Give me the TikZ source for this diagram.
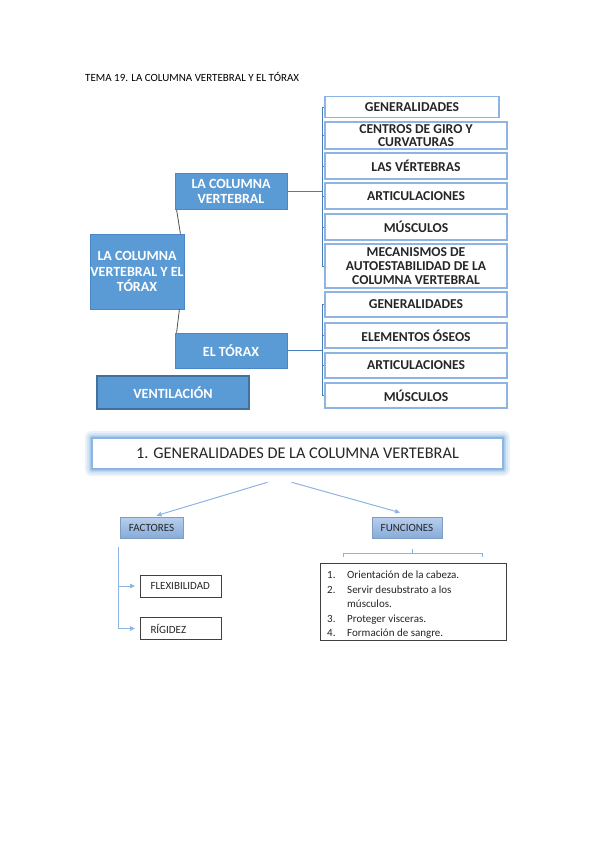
\documentclass[tikz,border=0pt]{standalone}
\usepackage{fontspec}
\setmainfont{Carlito}
\usetikzlibrary{arrows.meta}
\definecolor{obl}{HTML}{5B9BD5}
\definecolor{obd}{HTML}{4A86C8}
\definecolor{vbd}{HTML}{41719C}
\definecolor{rbd}{HTML}{8DB4E2}
\definecolor{cn}{HTML}{4A7EBB}
\definecolor{txt}{HTML}{262626}
\definecolor{arc}{HTML}{8EB4E3}
\definecolor{ftop}{HTML}{B8CFEC}
\definecolor{fbot}{HTML}{86ABDA}
\definecolor{fbd}{HTML}{7F9DC0}
\begin{document}
\begin{tikzpicture}[x=1pt,y=-1pt,
  bluebox/.style={draw=obd,line width=0.8pt,fill=obl,text=white,inner sep=0pt,align=center,
    font=\bfseries\fontsize{14}{15.5}\selectfont},
  rbox/.style={draw=rbd,line width=1.2pt,fill=white,text=txt,inner sep=0pt,align=center,
    minimum width=182pt,font=\bfseries\fontsize{13.6}{13.6}\selectfont},
  conn/.style={draw=cn,line width=1pt},
  dk/.style={draw=black!70,line width=0.8pt},
  arr/.style={draw=arc,line width=1pt,-{Triangle[length=5pt,width=4.5pt]}},
  fbox/.style={draw=fbd,line width=0.8pt,top color=ftop,bottom color=fbot,text=txt,inner sep=0pt,
    font=\fontsize{11}{11}\selectfont},
  wbox/.style={draw=black!75,line width=1pt,fill=white,text=txt,inner sep=0pt,
    font=\fontsize{11}{11}\selectfont}]
\useasboundingbox (0,0) rectangle (599,848);

\node[anchor=west,text=black,inner sep=0pt,font=\fontsize{11}{12}\selectfont] (tt) at (85,77) {TEMA 19. LA COLUMNA VERTEBRAL Y EL TÓRAX};

% left blue boxes
\node[bluebox,minimum width=94pt,minimum height=75pt] (main) at (137,271.5) {LA COLUMNA\\VERTEBRAL Y EL\\TÓRAX};
\node[bluebox,minimum width=112pt,minimum height=36pt] (col) at (231,191.5) {LA COLUMNA\\VERTEBRAL};
\node[bluebox,minimum width=112pt,minimum height=35pt] (tor) at (231,350.5) {EL TÓRAX};
\node[bluebox,draw=vbd,line width=1.5pt,minimum width=152pt,minimum height=33pt] (ven) at (173,392.5) {VENTILACIÓN};

% right boxes column
\node[rbox,minimum width=174pt,minimum height=21pt] (c1) at (412,107) {GENERALIDADES};
\node[rbox,minimum height=27pt] (c2) at (416,135.5) {CENTROS DE GIRO Y\\CURVATURAS};
\node[rbox,minimum height=26pt] (c3) at (416,166) {LAS VÉRTEBRAS};
\node[rbox,minimum height=26pt] (c4) at (416,196) {ARTICULACIONES};
\node[rbox,minimum height=26pt] (c5) at (416,227) {MÚSCULOS};
\node[rbox,minimum height=44pt] (c6) at (416,266) {MECANISMOS DE\\AUTOESTABILIDAD DE LA\\COLUMNA VERTEBRAL};
% right boxes torax
\node[rbox,minimum height=25pt] (t1) at (416,304.5) {GENERALIDADES};
\node[rbox,minimum height=25pt] (t2) at (416,335.5) {ELEMENTOS ÓSEOS};
\node[rbox,minimum height=25pt] (t3) at (416,365.5) {ARTICULACIONES};
\node[rbox,minimum height=25pt] (t4) at (416,395.5) {MÚSCULOS};

% dark connectors
\draw[dk] ([xshift=-4pt]main.north east) -- ([xshift=2pt]col.south west);
\draw[dk] ([xshift=-5pt]main.south east) -- ([xshift=2pt]tor.north west);

% brackets
\coordinate (bx) at (322,0);
\draw[conn] (col.east) -- (col.east -| bx);
\draw[conn] (c1.west -| bx) -- (c6.west -| bx);
\foreach \n in {c1,c2,c3,c4,c5,c6} \draw[conn,line width=0.8pt] (\n.west -| bx) -- (\n.west);
\draw[conn] (tor.east) -- (tor.east -| bx);
\draw[conn] (t1.west -| bx) -- (t4.west -| bx);
\foreach \n in {t1,t2,t3,t4} \draw[conn,line width=0.8pt] (\n.west -| bx) -- (\n.west);

% title box with glow
\node[draw=none,minimum width=411pt,minimum height=31pt,inner sep=0pt] (tb) at (297.5,453.5) {};
\foreach \d/\o in {7/0.12,5/0.15,3/0.2,1.5/0.3}
  \fill[obl,opacity=\o,rounded corners=\d pt] ([shift={(-\d pt,-\d pt)}]tb.south west) rectangle ([shift={(\d pt,\d pt)}]tb.north east);
\node[draw=rbd,line width=1.5pt,fill=white,minimum width=411pt,minimum height=31pt,inner sep=0pt,
  text=txt,font=\fontsize{16.3}{17}\selectfont] (tb) at (297.5,453.5) {1. GENERALIDADES DE LA COLUMNA VERTEBRAL};

\node[fbox,minimum width=63pt,minimum height=21pt] (fac) at (151.5,527.5) {FACTORES};
\node[fbox,minimum width=70pt,minimum height=21pt] (fun) at (407,527.5) {FUNCIONES};
\draw[arr] ([shift={(-30pt,-12.5pt)}]tb.south) -- ([xshift=5pt,yshift=1pt]fac.north);
\draw[arr] ([shift={(-6pt,-12.5pt)}]tb.south) -- ([xshift=-7pt,yshift=4pt]fun.north);

% factores tree
\node[wbox,anchor=west,minimum width=81pt,minimum height=22pt,text width=75pt,align=left] (flex) at (140,586) {\hspace*{7pt}FLEXIBILIDAD};
\node[wbox,anchor=west,minimum width=81pt,minimum height=22pt,text width=75pt,align=left] (rig) at (140,628.5) {\hspace*{7pt}RÍGIDEZ};
\coordinate (ft) at (118,547);
\draw[arr] (ft) |- ([xshift=-5pt]rig.west);
\draw[arr] (ft |- flex.west) -- ([xshift=-5pt]flex.west);

% funciones list
\node[wbox,minimum width=186pt,minimum height=77pt] (lst) at (413,601.5) {};
\draw[draw=cn!60,line width=0.8pt] (343,557) -- (343,553) -- (482,553) -- (482,557);
\draw[draw=cn!60,line width=0.8pt] (412,553) -- (412,549);
\begin{scope}[every node/.style={anchor=base west,inner sep=0pt,text=txt,font=\fontsize{11}{11}\selectfont}]
\node (n1) at (327,578.5) {1.};   \node (l1) at (347,578.5) {Orientación de la cabeza.};
\node (n2) at (327,593) {2.}; \node (l2) at (347,593) {Servir desubstrato a los};
\node (l2b) at (347,607.5) {músculos.};
\node (n3) at (327,622) {3.}; \node (l3) at (347,622) {Proteger visceras.};
\node (n4) at (327,636.5) {4.}; \node (l4) at (347,636.5) {Formación de sangre.};
\end{scope}
\end{tikzpicture}
\end{document}
